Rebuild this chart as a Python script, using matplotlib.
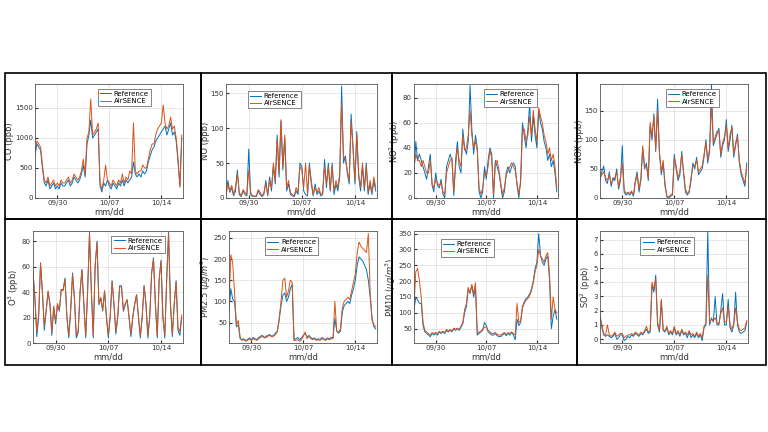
import numpy as np
import pandas as pd
import matplotlib
matplotlib.use("Agg")
import matplotlib.pyplot as plt
import matplotlib.dates as mdates
from matplotlib.patches import Rectangle

plt.rcParams['font.family'] = ['DejaVu Sans']

# 6-hourly samples from 09/27 00:00 to 10/16 18:00
times = pd.date_range("2021-09-27 00:00", periods=80, freq="6h")
tick_dates = ["2021-09-30", "2021-10-07", "2021-10-14"]
tick_labels = ["09/30", "10/07", "10/14"]
series_names = ["Reference", "AirSENCE"]

co_ref = [700, 900, 850, 800, 500, 250, 200, 300, 150, 200, 250, 150, 200, 150, 250, 200,
          200, 250, 300, 200, 250, 350, 300, 250, 300, 400, 550, 350, 900, 1050, 1300, 1000,
          1050, 1100, 1150, 200, 100, 250, 200, 300, 200, 150, 250, 200, 150, 250, 200, 300,
          200, 300, 250, 300, 350, 600, 400, 350, 400, 350, 450, 400, 450, 600, 700, 800,
          850, 950, 1000, 1050, 1100, 1150, 1200, 1050, 1150, 1250, 1050, 1100, 950, 600, 200, 1000]
co_air = [750, 950, 900, 850, 550, 300, 250, 350, 200, 250, 300, 200, 250, 200, 300, 250,
          250, 300, 350, 250, 300, 400, 350, 300, 350, 450, 650, 400, 1000, 1100, 1650, 1050,
          1100, 1150, 1250, 250, 150, 300, 550, 300, 250, 200, 300, 250, 200, 300, 250, 400,
          250, 350, 300, 450, 400, 1250, 450, 400, 450, 450, 550, 500, 500, 650, 800, 900,
          900, 1050, 1150, 1200, 1250, 1550, 1250, 1150, 1200, 1350, 1150, 1200, 1000, 650, 180, 1050]

no_ref = [5, 25, 8, 15, 3, 10, 40, 5, 2, 10, 5, 3, 70, 5, 2, 3,
          2, 10, 5, 2, 5, 25, 3, 30, 10, 45, 20, 90, 30, 110, 40, 85,
          10, 20, 5, 3, 2, 10, 5, 50, 45, 10, 5, 3, 50, 20, 3, 20,
          5, 10, 3, 5, 55, 15, 50, 10, 50, 5, 20, 10, 30, 160, 50, 60,
          35, 20, 120, 75, 20, 95, 30, 10, 45, 10, 50, 5, 20, 5, 25, 10]
no_air = [3, 20, 10, 18, 5, 15, 35, 8, 3, 12, 8, 5, 40, 8, 3, 2,
          3, 12, 8, 3, 8, 20, 5, 25, 15, 50, 25, 85, 35, 112, 45, 90,
          15, 25, 8, 5, 3, 15, 8, 45, 40, 15, 50, 5, 45, 25, 5, 15,
          8, 15, 5, 8, 45, 20, 45, 12, 45, 10, 25, 15, 35, 135, 60, 55,
          40, 25, 110, 70, 25, 90, 35, 15, 50, 15, 45, 8, 25, 8, 30, 15]

no2_ref = [20, 45, 30, 35, 30, 25, 20, 15, 25, 35, 10, 5, 20, 10, 8, 15,
           3, 0, 25, 30, 35, 30, 2, 30, 45, 25, 20, 55, 40, 35, 45, 90,
           55, 35, 50, 40, 5, 0, 5, 25, 15, 30, 40, 35, 0, 30, 25, 20,
           10, 0, 5, 20, 25, 20, 25, 28, 25, 10, 0, 15, 60, 50, 40, 55,
           75, 45, 65, 50, 40, 70, 60, 55, 45, 40, 30, 35, 25, 30, 20, 5]
no2_air = [25, 35, 30, 30, 25, 30, 25, 20, 20, 30, 12, 8, 15, 12, 10, 12,
           5, 3, 20, 25, 30, 32, 5, 25, 40, 30, 25, 50, 38, 40, 50, 70,
           50, 40, 45, 38, 8, 3, 8, 20, 18, 25, 38, 32, 3, 28, 30, 22,
           12, 3, 8, 18, 22, 25, 28, 25, 22, 12, 3, 12, 55, 55, 45, 50,
           65, 50, 70, 55, 45, 72, 65, 60, 50, 45, 35, 40, 30, 35, 25, 8]

nox_ref = [30, 45, 55, 30, 25, 45, 20, 35, 30, 50, 15, 30, 90, 10, 5, 8,
           5, 10, 3, 30, 45, 10, 30, 85, 50, 60, 30, 125, 100, 145, 80, 170,
           80, 40, 60, 20, 2, 0, 3, 5, 75, 50, 30, 40, 80, 40, 10, 5,
           10, 30, 60, 50, 70, 40, 45, 50, 70, 100, 60, 80, 195, 90, 100, 110,
           120, 70, 90, 100, 135, 80, 100, 125, 70, 90, 110, 60, 40, 30, 20, 60]
nox_air = [35, 40, 45, 35, 30, 40, 25, 30, 35, 45, 20, 35, 60, 15, 8, 10,
           8, 12, 5, 25, 40, 15, 35, 90, 55, 55, 35, 130, 105, 140, 85, 150,
           75, 45, 65, 25, 3, 2, 5, 8, 70, 55, 35, 45, 75, 45, 15, 8,
           12, 35, 55, 55, 65, 45, 50, 55, 75, 95, 65, 85, 160, 95, 105, 115,
           115, 75, 95, 105, 125, 85, 110, 120, 75, 95, 105, 65, 45, 35, 25, 55]

o3_ref = [56, 35, 5, 20, 63, 40, 10, 25, 40, 30, 6, 28, 15, 30, 25, 42,
          42, 51, 20, 4, 25, 55, 35, 4, 8, 40, 58, 30, 4, 40, 87, 40,
          4, 60, 80, 30, 35, 25, 41, 20, 4, 20, 49, 30, 7, 20, 45, 45,
          25, 30, 34, 20, 5, 20, 30, 38, 20, 4, 20, 45, 30, 4, 20, 55,
          67, 30, 4, 50, 65, 20, 4, 50, 87, 30, 5, 30, 49, 10, 6, 20]
o3_air = [55, 36, 9, 22, 62, 40, 13, 26, 41, 31, 9, 29, 17, 31, 26, 42,
          41, 50, 21, 6, 26, 54, 35, 6, 10, 41, 57, 31, 6, 41, 86, 41,
          6, 61, 79, 31, 36, 26, 41, 21, 6, 21, 48, 31, 9, 21, 44, 44,
          26, 31, 34, 21, 7, 21, 31, 38, 21, 6, 21, 45, 31, 6, 21, 55,
          66, 31, 6, 50, 64, 21, 6, 50, 86, 31, 7, 31, 48, 12, 9, 22]

pm25_ref = [80, 130, 105, 100, 40, 45, 12, 10, 12, 8, 10, 14, 10, 15, 12, 10,
            15, 18, 20, 15, 18, 20, 22, 18, 20, 25, 30, 55, 90, 115, 120, 100,
            110, 130, 140, 10, 12, 15, 10, 14, 20, 25, 15, 20, 15, 12, 14, 10,
            12, 10, 15, 12, 10, 14, 12, 15, 15, 60, 30, 25, 30, 75, 90, 95,
            100, 95, 115, 130, 150, 185, 205, 200, 195, 185, 175, 150, 110, 60, 40, 35]
pm25_air = [90, 210, 190, 120, 45, 55, 15, 8, 10, 6, 8, 12, 8, 12, 10, 8,
            12, 15, 18, 14, 15, 18, 20, 16, 18, 22, 28, 60, 100, 150, 155, 110,
            125, 150, 145, 8, 8, 10, 6, 10, 18, 28, 12, 18, 12, 10, 12, 8,
            10, 8, 12, 10, 8, 12, 10, 12, 12, 100, 30, 28, 35, 85, 100, 105,
            110, 105, 125, 145, 165, 215, 240, 230, 225, 220, 215, 260, 120, 55, 45, 40]

pm10_ref = [110, 150, 140, 130, 130, 60, 40, 35, 30, 25, 35, 30, 35, 30, 40, 35,
            40, 35, 45, 40, 45, 40, 50, 45, 50, 45, 55, 65, 100, 120, 175, 165,
            185, 150, 180, 30, 35, 40, 45, 70, 60, 40, 35, 30, 30, 35, 28, 25,
            25, 30, 35, 28, 35, 30, 38, 30, 15, 80, 60, 70, 120, 135, 145, 150,
            160, 175, 200, 240, 260, 350, 280, 260, 250, 270, 280, 200, 50, 90, 110, 80]
pm10_air = [120, 230, 240, 200, 150, 70, 45, 40, 35, 30, 38, 35, 38, 35, 42, 38,
            42, 38, 48, 42, 48, 42, 52, 48, 52, 48, 58, 70, 110, 130, 180, 160,
            190, 160, 195, 35, 40, 42, 48, 55, 55, 45, 40, 35, 35, 38, 32, 30,
            30, 35, 38, 32, 38, 35, 40, 35, 30, 130, 70, 75, 115, 130, 140, 145,
            155, 170, 195, 230, 250, 300, 280, 270, 260, 280, 290, 220, 80, 150, 110, 100]

so2_ref = [1.8, 0.8, 0.3, 0.2, 0.3, 0.2, 0.1, 0.2, 0.4, 0.0, 0.1, 0.3, 0.3, -0.1, 0.0, 0.2,
           0.1, 0.3, 0.2, 0.4, 0.3, 0.2, 0.4, 0.3, 0.5, 0.7, 0.4, 0.5, 3.8, 3.3, 4.5, 1.0,
           0.5, 2.7, 0.6, 0.5, 0.8, 0.3, 0.5, 0.3, 0.8, 0.3, 0.5, 0.2, 0.6, 0.3, 0.4, 0.1,
           0.5, 0.1, 0.3, 0.1, 0.4, 0.1, 0.3, -0.1, 0.8, 1.0, 7.6, 1.0, 1.5, 1.2, 3.0, 1.0,
           1.0, 2.0, 3.2, 1.0, 1.0, 2.8, 0.8, 0.5, 1.0, 3.3, 1.0, 0.5, 0.4, 0.5, 0.6, 1.2]
so2_air = [1.5, 1.0, 0.4, 0.3, 1.0, 0.3, 0.2, 0.3, 0.5, 0.2, 0.3, 0.4, 0.4, 0.1, 0.2, 0.3,
           0.3, 0.4, 0.3, 0.5, 0.4, 0.3, 0.5, 0.4, 0.6, 0.9, 0.5, 0.6, 4.0, 3.5, 4.2, 1.2,
           0.6, 2.8, 0.7, 0.6, 0.9, 0.4, 0.6, 0.4, 0.9, 0.4, 0.6, 0.3, 0.7, 0.4, 0.5, 0.3,
           0.6, 0.3, 0.4, 0.2, 0.5, 0.2, 0.4, 0.1, 0.9, 1.1, 4.5, 1.2, 1.4, 1.3, 1.5, 1.1,
           1.1, 1.8, 2.2, 1.2, 1.2, 2.3, 1.0, 0.7, 1.1, 2.2, 1.2, 0.7, 0.6, 0.7, 0.8, 1.3]

panels = [
    ("CO (ppb)", co_ref, co_air, (0, 1900), [0, 500, 1000, 1500]),
    ("NO (ppb)", no_ref, no_air, (0, 163), [0, 50, 100, 150]),
    ("NO$^2$ (ppb)", no2_ref, no2_air, (0, 91), [0, 20, 40, 60, 80]),
    ("NOX (ppb)", nox_ref, nox_air, (0, 196), [0, 50, 100, 150]),
    ("O$^3$ (ppb)", o3_ref, o3_air, (0, 88), [0, 20, 40, 60, 80]),
    ("PM2.5 ($\\mu g/m^3$)", pm25_ref, pm25_air, (2, 266), [50, 100, 150, 200, 250]),
    ("PM10 ($\\mu g/m^3$)", pm10_ref, pm10_air, (5, 358), [50, 100, 150, 200, 250, 300, 350]),
    ("SO$^2$ (ppb)", so2_ref, so2_air, (-0.27, 7.6), [0, 1, 2, 3, 4, 5, 6, 7]),
]

W, H = 768, 432
fig = plt.figure(figsize=(W / 100, H / 100), dpi=100)
fig.patch.set_facecolor("white")

# axes pixel boxes (left, right, top, bottom)
ax_px = [
    (35, 183, 84, 198), (226, 377, 84, 198), (414, 558, 84, 198), (600, 748, 84, 198),
    (33, 183, 231, 343), (229, 377, 231, 343), (414, 558, 231, 343), (600, 748, 231, 343),
]
leg_pos = [(0.40, 0.99), (0.12, 0.97), (0.46, 0.985), (0.42, 0.985),
           (0.50, 0.99), (0.22, 0.975), (0.16, 0.96), (0.25, 0.975)]

blue = "#0072BD"
orange = "#D95319"
xmin = pd.Timestamp("2021-09-27 00:00")
xmax = pd.Timestamp("2021-10-16 22:00")

for i, (ylab, ref, air, ylim, yt) in enumerate(panels):
    l, r, t, b = ax_px[i]
    ax = fig.add_axes([l / W, 1 - b / H, (r - l) / W, (b - t) / H])
    ax.plot(times, ref, color=blue, lw=0.7, label=series_names[0])
    ax.plot(times, air, color=orange, lw=0.7, label=series_names[1])
    ax.set_xlim(xmin, xmax)
    ax.set_ylim(*ylim)
    ax.set_yticks(yt)
    ax.set_xticks(pd.to_datetime(tick_dates))
    ax.set_xticklabels(tick_labels)
    ax.grid(True, color="#dddddd", lw=0.5)
    ax.tick_params(direction="in", length=2, labelsize=5, colors="#333333", pad=1.5)
    for s in ax.spines.values():
        s.set_color("#555555")
        s.set_linewidth(0.6)
    ax.set_ylabel(ylab, fontsize=6, color="#333333", labelpad=0.5)
    ax.set_xlabel("mm/dd", fontsize=6, color="#333333", labelpad=1)
    leg = ax.legend(loc="upper left", bbox_to_anchor=leg_pos[i], fontsize=5,
                    handlelength=1.6, borderpad=0.3, labelspacing=0.2,
                    handletextpad=0.4, fancybox=False, framealpha=1,
                    edgecolor="#555555")
    leg.get_frame().set_linewidth(0.5)

# panel frames
xs = [5, 201, 392, 577, 766]
ys = [73, 219, 365]
for rr in range(2):
    for cc in range(4):
        x0, x1 = xs[cc], xs[cc + 1]
        y0, y1 = ys[rr], ys[rr + 1]
        fig.patches.append(Rectangle((x0 / W, 1 - y1 / H), (x1 - x0) / W, (y1 - y0) / H,
                                     transform=fig.transFigure, fill=False,
                                     edgecolor="black", lw=1.2))

fig.savefig("out.png", dpi=100)
